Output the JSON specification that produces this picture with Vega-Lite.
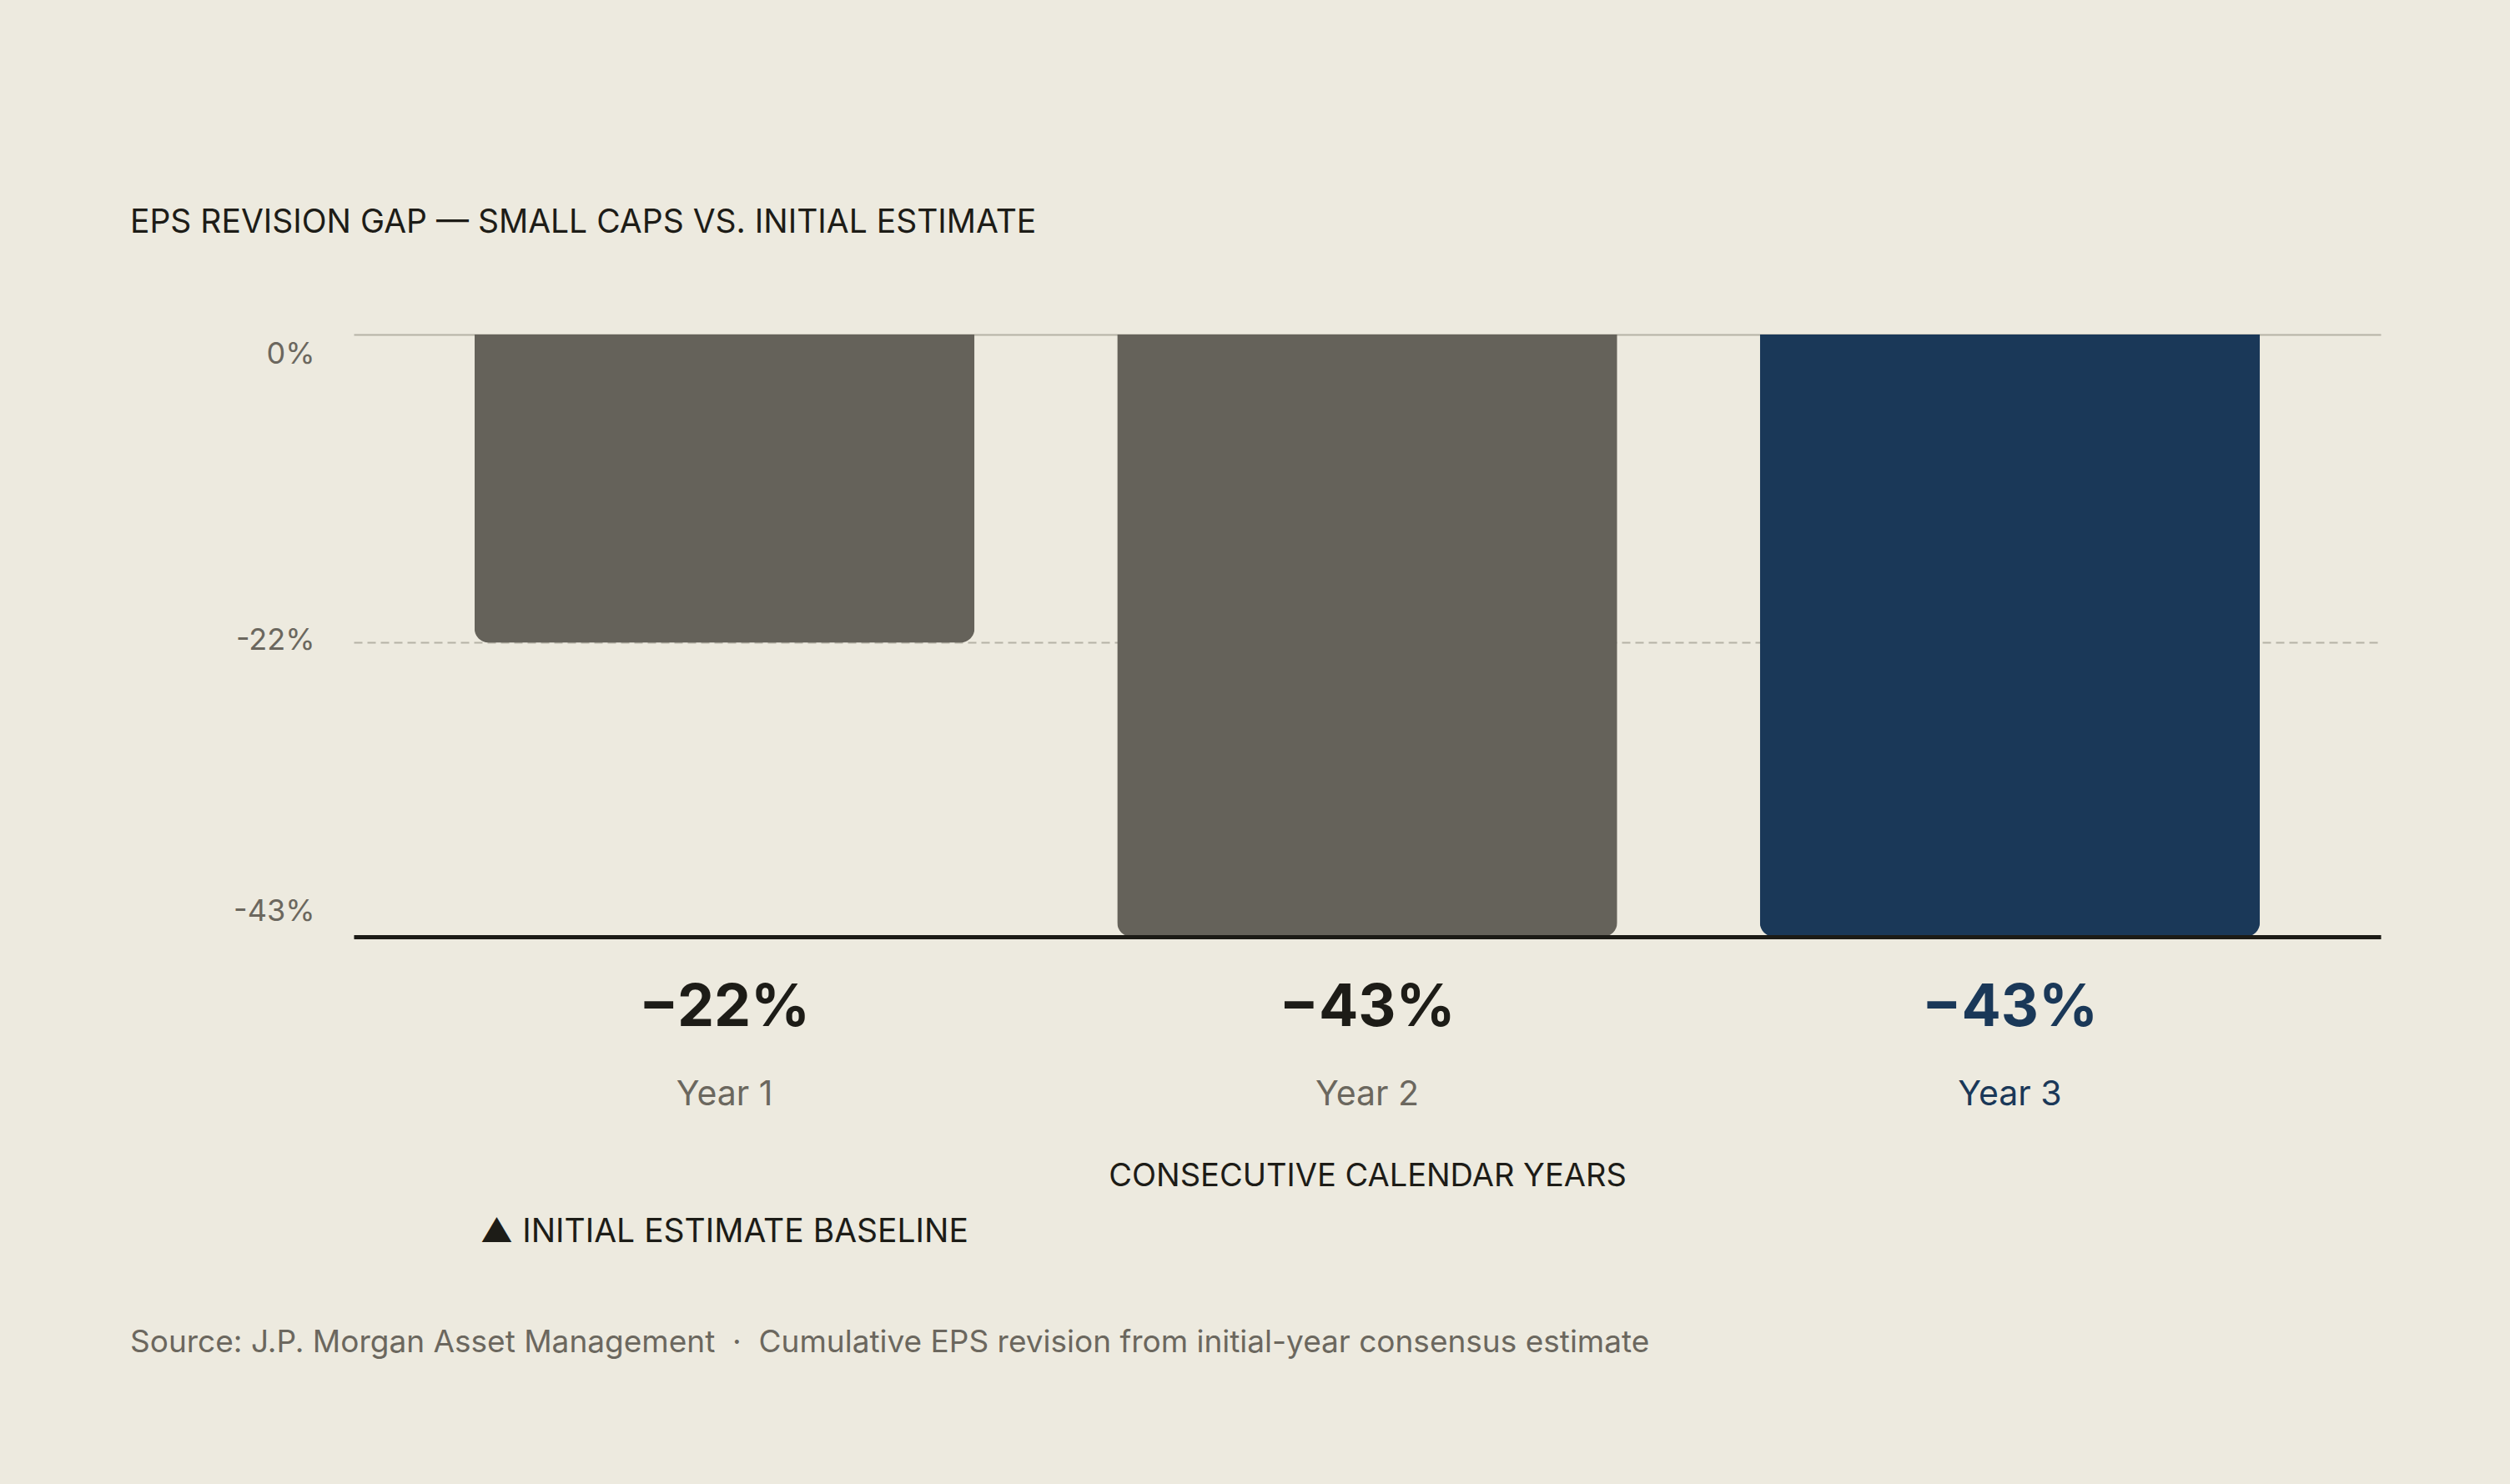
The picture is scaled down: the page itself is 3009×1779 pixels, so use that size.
{
  "$schema": "https://vega.github.io/schema/vega-lite/v6.json",
  "background": "#edeadf",
  "padding": {"left": 156, "right": 155, "top": 248, "bottom": 154},
  "title": {
    "text": "Source: J.P. Morgan Asset Management \u00a0·\u00a0 Cumulative EPS revision from initial-year consensus estimate",
    "orient": "bottom",
    "anchor": "start",
    "frame": "bounds",
    "font": "Inter",
    "fontSize": 37,
    "fontWeight": "normal",
    "color": "#6b675e",
    "offset": 95
  },
  "vconcat": [
    {
      "title": {
        "text": "EPS REVISION GAP — SMALL CAPS VS. INITIAL ESTIMATE",
        "anchor": "start",
        "frame": "group",
        "dx": -268,
        "offset": 114,
        "font": "Inter",
        "fontSize": 39,
        "fontWeight": "normal",
        "color": "#1d1c17"
      },
      "width": 2430,
      "height": 722,
      "data": {
        "values": [
          {"year": "Year 1", "value": -22, "label": "−22%"},
          {"year": "Year 2", "value": -43, "label": "−43%"},
          {"year": "Year 3", "value": -43, "label": "−43%"}
        ]
      },
      "encoding": {
        "x": {
          "field": "year",
          "type": "nominal",
          "scale": {"paddingInner": 0.222, "paddingOuter": 0.188},
          "axis": {
            "title": "CONSECUTIVE CALENDAR YEARS",
            "titleFont": "Inter",
            "titleFontSize": 38,
            "titleFontWeight": "normal",
            "titleColor": "#1d1c17",
            "titlePadding": 68,
            "labelFont": "Inter",
            "labelFontSize": 41,
            "labelAngle": 0,
            "labelPadding": 169,
            "labelColor": {
              "condition": {"test": "datum.value == 'Year 3'", "value": "#1a3858"},
              "value": "#6b675e"
            },
            "domainColor": "#1c1b16",
            "domainWidth": 5,
            "ticks": false,
            "tickSize": 0,
            "zindex": 1
          }
        }
      },
      "layer": [
        {
          "mark": {"type": "bar", "cornerRadiusBottomLeft": 17, "cornerRadiusBottomRight": 17},
          "encoding": {
            "y": {
              "field": "value",
              "type": "quantitative",
              "scale": {"domain": [-43, 0], "nice": false},
              "axis": {
                "title": null,
                "values": [0, -22, -43],
                "labelExpr": "datum.value + '%'",
                "labelFont": "Inter",
                "labelFontSize": 36,
                "labelColor": "#6b675e",
                "labelPadding": 47,
                "labelFlush": true,
                "labelFlushOffset": -9,
                "labelOffset": -3,
                "domain": false,
                "ticks": false,
                "grid": true,
                "gridColor": "#b5b2a6",
                "gridWidth": 2,
                "gridDash": {
                  "condition": {"test": "datum.value == 0", "value": []},
                  "value": [10, 6]
                }
              }
            },
            "color": {
              "condition": {"test": "datum.year == 'Year 3'", "value": "#1a3858"},
              "value": "#65625a"
            }
          }
        },
        {
          "mark": {
            "type": "text",
            "baseline": "middle",
            "dy": 86,
            "font": "Inter",
            "fontSize": 70,
            "fontWeight": "bold"
          },
          "encoding": {
            "y": {"value": "height"},
            "text": {"field": "label"},
            "color": {
              "condition": {"test": "datum.year == 'Year 3'", "value": "#1a3858"},
              "value": "#1d1c17"
            }
          }
        },
        {
          "data": {
            "values": [{"year": "Year 1", "note": "▲ INITIAL ESTIMATE BASELINE"}]
          },
          "mark": {
            "type": "text",
            "align": "left",
            "baseline": "middle",
            "dx": 7,
            "dy": 354,
            "font": "Inter",
            "fontSize": 39,
            "color": "#1d1c17"
          },
          "encoding": {
            "x": {"field": "year", "type": "nominal", "bandPosition": 0},
            "y": {"value": "height"},
            "text": {"field": "note"}
          }
        }
      ]
    }
  ],
  "config": {
    "view": {"stroke": null},
    "font": "Inter"
  }
}
